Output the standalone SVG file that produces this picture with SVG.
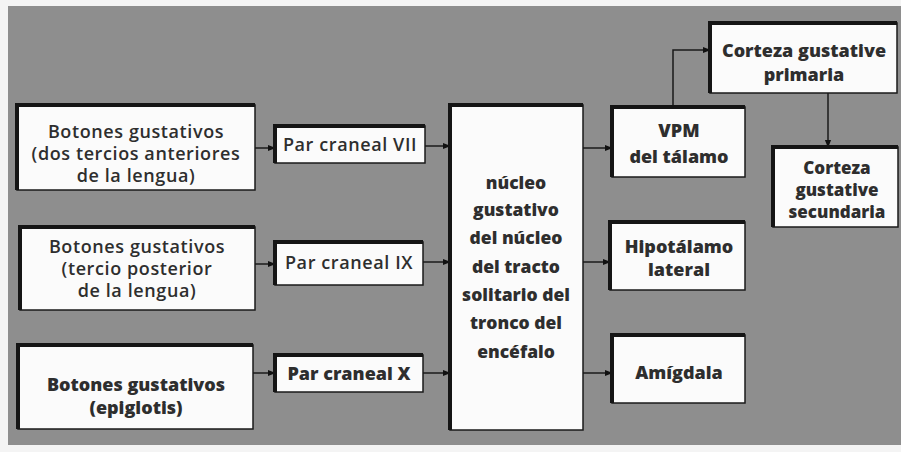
<svg xmlns="http://www.w3.org/2000/svg" width="901" height="452" viewBox="0 0 901 452">
<defs>
<style>
.bx{fill:#fbfbfb;stroke:#1a1a1a;stroke-width:1.5}
.sh{fill:none;stroke:#151515;stroke-width:4}
.t{font-family:"Open Sans","Liberation Sans",sans-serif;font-weight:600;font-size:18px;letter-spacing:0.6px;fill:#2e2e2e;text-anchor:middle}
.tb{font-family:"Open Sans","Liberation Sans",sans-serif;font-weight:800;font-size:18px;fill:#2e2e2e;text-anchor:middle}
.ts{font-family:"Open Sans","Liberation Sans",sans-serif;font-weight:800;font-size:17px;fill:#2e2e2e;text-anchor:middle}
.tm{font-family:"Open Sans","Liberation Sans",sans-serif;font-weight:800;font-size:17.5px;fill:#2e2e2e;text-anchor:middle}
.c{fill:none;stroke:#1a1a1a;stroke-width:1.5}
</style>
<marker id="ah" viewBox="0 0 10 10" refX="9" refY="5" markerWidth="8" markerHeight="8" orient="auto" markerUnits="userSpaceOnUse">
<path d="M0,1 L10,5 L0,9 Z" fill="#111"/>
</marker>
</defs>
<rect x="0" y="0" width="901" height="452" fill="#f4f4f4"/>
<rect x="8" y="6" width="893" height="439" fill="#8e8e8e"/>

<g id="connectors">
<path class="c" d="M255,148 H275" marker-end="url(#ah)"/>
<path class="c" d="M425,146 H450" marker-end="url(#ah)"/>
<path class="c" d="M255,264 H275" marker-end="url(#ah)"/>
<path class="c" d="M423,262 H450" marker-end="url(#ah)"/>
<path class="c" d="M253,373 H275" marker-end="url(#ah)"/>
<path class="c" d="M423,373 H450" marker-end="url(#ah)"/>
<path class="c" d="M583,148 H612" marker-end="url(#ah)"/>
<path class="c" d="M583,262 H610" marker-end="url(#ah)"/>
<path class="c" d="M583,373 H612" marker-end="url(#ah)"/>
<path class="c" d="M673,107 V50 H710" marker-end="url(#ah)"/>
<path class="c" d="M828,93 V147" marker-end="url(#ah)"/>
</g>

<g id="n-botones1">
<rect class="bx" x="17" y="105" width="238" height="85"/>
<path class="sh" d="M17,190 V105 H255"/>
<text class="t" x="136" y="138">Botones gustativos</text>
<text class="t" x="136" y="160">(dos tercios anteriores</text>
<text class="t" x="136" y="182">de la lengua)</text>
</g>
<g id="n-par7">
<rect class="bx" x="275" y="126" width="150" height="37"/>
<path class="sh" d="M275,163 V126 H425"/>
<text class="t" x="350" y="151">Par craneal VII</text>
</g>

<g id="n-botones2">
<rect class="bx" x="20" y="227" width="235" height="83"/>
<path class="sh" d="M20,310 V227 H255"/>
<text class="t" x="137" y="253">Botones gustativos</text>
<text class="t" x="137" y="275">(tercio posterior</text>
<text class="t" x="137" y="297">de la lengua)</text>
</g>
<g id="n-par9">
<rect class="bx" x="275" y="242" width="148" height="43"/>
<path class="sh" d="M275,285 V242 H423"/>
<text class="t" x="349" y="269">Par craneal IX</text>
</g>

<g id="n-botones3">
<rect class="bx" x="18" y="345" width="235" height="84"/>
<path class="sh" d="M18,429 V345 H253"/>
<text class="tb" x="136" y="391">Botones gustativos</text>
<text class="tb" x="136" y="414">(epiglotis)</text>
</g>
<g id="n-par10">
<rect class="bx" x="275" y="355" width="148" height="37"/>
<path class="sh" d="M275,392 V355 H423"/>
<text class="tb" x="349" y="380">Par craneal X</text>
</g>

<g id="n-nucleo">
<rect class="bx" x="450" y="105" width="133" height="325"/>
<path class="sh" d="M450,430 V105 H583"/>
<text class="tm" x="516" y="189">núcleo</text>
<text class="tm" x="516" y="216">gustativo</text>
<text class="tm" x="516" y="244">del núcleo</text>
<text class="tm" x="516" y="273">del tracto</text>
<text class="tm" x="516" y="301">solitario del</text>
<text class="tm" x="516" y="329">tronco del</text>
<text class="tm" x="516" y="358">encéfalo</text>
</g>

<g id="n-vpm">
<rect class="bx" x="612" y="107" width="133" height="70"/>
<path class="sh" d="M612,177 V107 H745"/>
<text class="tb" x="679" y="137">VPM</text>
<text class="tb" x="679" y="163">del tálamo</text>
</g>

<g id="n-corteza1">
<rect class="bx" x="710" y="23" width="187" height="70"/>
<path class="sh" d="M710,93 V23 H897"/>
<text class="tb" x="804" y="57">Corteza gustative</text>
<text class="tb" x="804" y="81">primaria</text>
</g>

<g id="n-corteza2">
<rect class="bx" x="773" y="147" width="125" height="80"/>
<path class="sh" d="M773,227 V147 H898"/>
<text class="ts" x="837" y="174">Corteza</text>
<text class="ts" x="837" y="196">gustative</text>
<text class="ts" x="837" y="218">secundaria</text>
</g>

<g id="n-hipotalamo">
<rect class="bx" x="610" y="222" width="135" height="68"/>
<path class="sh" d="M610,290 V222 H745"/>
<text class="tb" x="679" y="253">Hipotálamo</text>
<text class="tb" x="679" y="276">lateral</text>
</g>

<g id="n-amigdala">
<rect class="bx" x="612" y="335" width="133" height="68"/>
<path class="sh" d="M612,403 V335 H745"/>
<text class="tb" x="679" y="379">Amígdala</text>
</g>
</svg>
